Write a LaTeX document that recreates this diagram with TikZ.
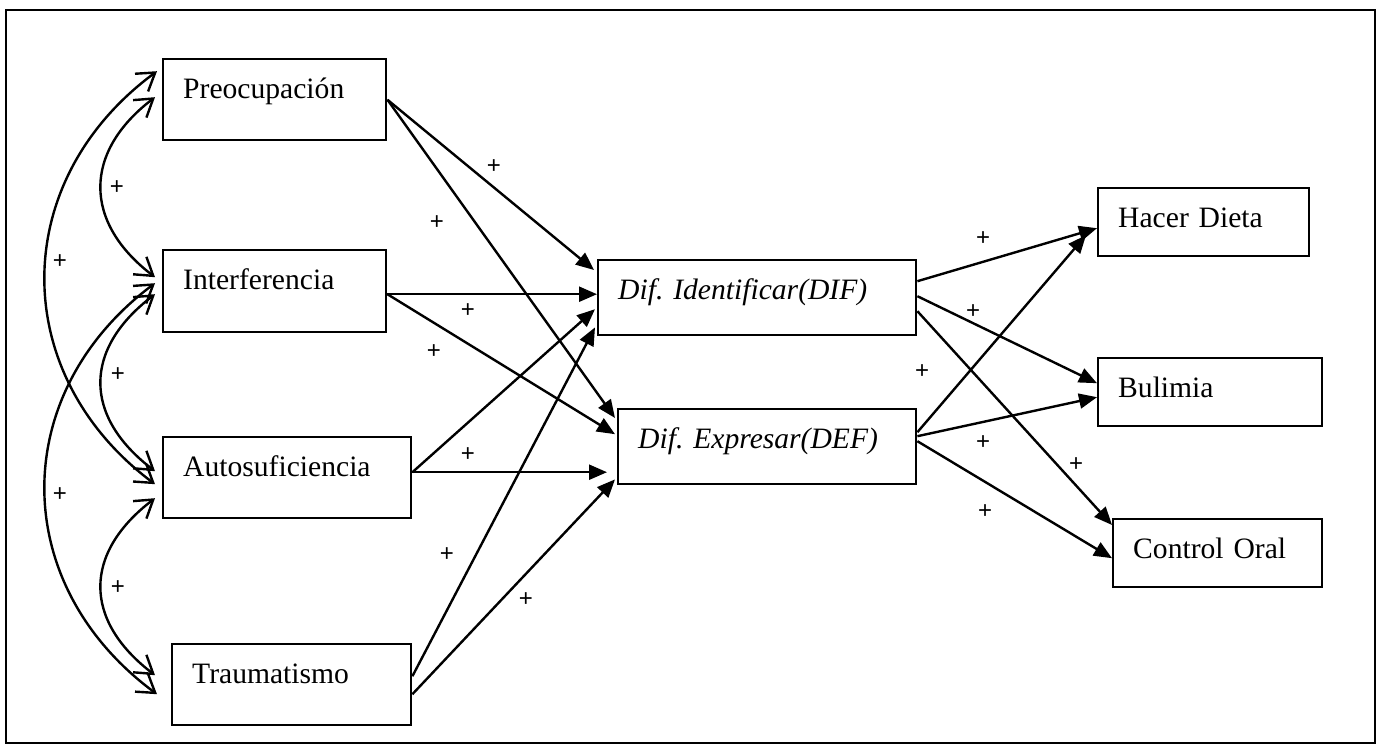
\documentclass[tikz,border=0pt]{standalone}
\usepackage{fontspec}
\setmainfont{Liberation Serif}
\newfontfamily\signfont{Liberation Sans}
\usetikzlibrary{arrows.meta,calc}
\begin{document}
\frenchspacing
\begin{tikzpicture}[x=0.5pt,y=-0.5pt,
  box/.style={draw, line width=1.2pt, anchor=north west, align=left,
    inner xsep=10pt, inner ysep=0pt, text height=19.5pt,
    font=\fontsize{14.8pt}{17pt}\selectfont},
  cov/.style={line width=1.2pt,
    {Straight Barb[length=8.5pt,width=11pt]}-{Straight Barb[length=8.5pt,width=11pt]}},
  eff/.style={line width=1.2pt, -{Triangle[length=9pt,width=7.5pt]}},
  sign/.style={font=\signfont\fontsize{12pt}{14pt}\selectfont, inner sep=0pt}]
\useasboundingbox (0,0) rectangle (1382,749);
\draw[line width=1.2pt] (6,10) rectangle (1375,743);

% predictors
\node[box, text width=91.5pt, text depth=21pt]   (preo)   at (162,58)  {Preocupación};
\node[box, text width=91.5pt, text depth=21.5pt] (inter)  at (162,249) {Interferencia};
\node[box, text width=104pt,  text depth=21pt]   (auto)   at (162,436) {Autosuficiencia};
\node[box, text width=99.5pt, text depth=21pt]   (trauma) at (171,643) {Traumatismo};

% mediators
\node[box, text width=139pt, text depth=18pt] (dif) at (597,259) {\itshape Dif. Identificar(DIF)};
\node[box, text width=129pt, text depth=18pt] (def) at (617,408) {\itshape Dif. Expresar(DEF)};

% outcomes
\node[box, text width=85.5pt, text depth=14.5pt] (hacer) at (1097,187) {Hacer Dieta};
\node[box, text width=92pt,   text depth=14.5pt] (bul)   at (1097,357) {Bulimia};
\node[box, text width=84.5pt, text depth=14.5pt] (ctrl)  at (1112,518) {Control Oral};

% covariances between predictors
\draw[cov] ($(preo.west)+(-7,-2.5)$) .. controls +(-72,55) and +(-72,-55) .. ($(inter.west)+(-7,-14)$);
\draw[cov] ($(preo.west)+(-5,-28.5)$) .. controls +(-149,110) and +(-147,-110) .. ($(auto.west)+(-7,6.5)$);
\draw[cov] ($(inter.west)+(-7,3)$) .. controls +(-72,55) and +(-72,-55) .. ($(auto.west)+(-7,-6.5)$);
\draw[cov] ($(inter.west)+(-7,-8)$) .. controls +(-147,110) and +(-149,-110) .. ($(trauma.west)+(-14,9.5)$);
\draw[cov] ($(auto.west)+(-7,20.5)$) .. controls +(-72,55) and +(-72,-55) .. ($(trauma.west)+(-16,-9.5)$);

% predictors -> mediators
\draw[eff] (preo.east) -- ($(dif.north west)+(-3,11)$);
\draw[eff] (preo.east) -- ($(def.north west)+(-2,10)$);
\draw[eff] ($(inter.east)+(0,3)$) -- ($(dif.west)+(0,-3.5)$);
\draw[eff] ($(inter.east)+(0,3)$) -- ($(def.west)+(-2,-12.5)$);
\draw[eff] ($(auto.east)+(0,-5.5)$) -- ($(dif.west)+(-2,11.5)$);
\draw[eff] ($(auto.east)+(0,-5.5)$) -- ($(def.west)+(-10,25.5)$);
\draw[eff] ($(trauma.east)+(0,-8.5)$) -- ($(dif.south west)+(-2,-9)$);
\draw[eff] ($(trauma.east)+(0,9.5)$) -- ($(def.south west)+(-2,-6)$);

% mediators -> outcomes
\draw[eff] ($(dif.east)+(0,-16.5)$) -- ($(hacer.west)+(0,6)$);
\draw[eff] ($(dif.east)+(0,-1.5)$) -- ($(bul.west)+(0,-9)$);
\draw[eff] ($(dif.east)+(0,13.5)$) -- ($(ctrl.north west)+(0,7)$);
\draw[eff] ($(def.east)+(0,-14.5)$) -- ($(hacer.west)+(-11,13)$);
\draw[eff] ($(def.east)+(0,-10.5)$) -- ($(bul.west)+(0,5)$);
\draw[eff] ($(def.east)+(0,-5.5)$) -- ($(ctrl.west)+(0,5)$);

% signs
\node[sign] (s1)  at (117,188) {+};
\node[sign] (s2)  at (60,262)  {+};
\node[sign] (s3)  at (118,375) {+};
\node[sign] (s4)  at (60,495)  {+};
\node[sign] (s5)  at (118,588) {+};
\node[sign] (s6)  at (494,167) {+};
\node[sign] (s7)  at (437,223) {+};
\node[sign] (s8)  at (468,311) {+};
\node[sign] (s9)  at (434,352) {+};
\node[sign] (s10) at (468,455) {+};
\node[sign] (s11) at (447,555) {+};
\node[sign] (s12) at (526,600) {+};
\node[sign] (s13) at (983,239) {+};
\node[sign] (s14) at (973,312) {+};
\node[sign] (s15) at (922,372) {+};
\node[sign] (s16) at (983,443) {+};
\node[sign] (s17) at (1076,465) {+};
\node[sign] (s18) at (985,512) {+};
\end{tikzpicture}
\end{document}
